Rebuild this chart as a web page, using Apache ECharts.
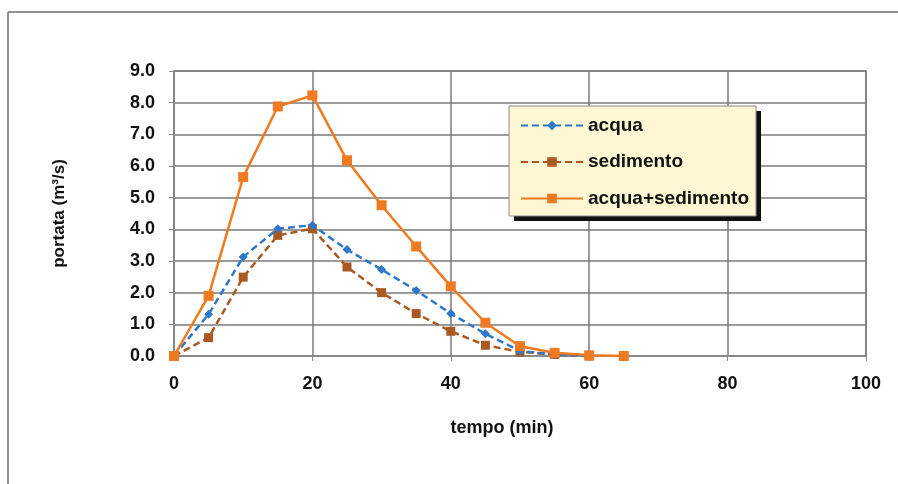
<!DOCTYPE html>
<html>
<head>
<meta charset="utf-8">
<script src="https://cdn.jsdelivr.net/npm/echarts@6/dist/echarts.min.js"></script>
<style>
html,body{margin:0;padding:0;background:#fff;}
#chart{width:898px;height:484px;}
</style>
</head>
<body>
<div id="chart"></div>
<script>
const tempo = [0, 5, 10, 15, 20, 25, 30, 35, 40, 45, 50, 55, 60, 65];
const acqua = [0, 1.32, 3.13, 4.02, 4.13, 3.36, 2.73, 2.07, 1.34, 0.7, 0.16, 0.05, 0];
const sedimento = [0, 0.58, 2.49, 3.81, 4.02, 2.81, 2.0, 1.34, 0.78, 0.34, 0.13, 0.05, 0];
const totale = [0, 1.9, 5.65, 7.88, 8.23, 6.18, 4.76, 3.46, 2.2, 1.05, 0.31, 0.1, 0.02, 0];
const xTicks = [0, 20, 40, 60, 80, 100];
const yTicks = [0, 1, 2, 3, 4, 5, 6, 7, 8, 9];

const pair = arr => arr.map((v, i) => [tempo[i], v]);
const FONT = 'Liberation Sans, Arial, sans-serif';
const chart = echarts.init(document.getElementById('chart'));

chart.setOption({
  backgroundColor: '#ffffff',
  animation: false,
  graphic: [
    { type: 'line', z: 1, shape: { x1: 8, y1: 12, x2: 898, y2: 12 }, style: { stroke: '#6e6e6e', lineWidth: 1.5 } },
    { type: 'line', z: 1, shape: { x1: 8, y1: 12, x2: 8, y2: 484 }, style: { stroke: '#6e6e6e', lineWidth: 1.5 } },
    { type: 'rect', z: 3, shape: { x: 514, y: 111, width: 247, height: 110 }, style: { fill: '#111' } },
    { type: 'rect', z: 3, shape: { x: 509, y: 106, width: 247, height: 110 }, style: { fill: '#fdf7d3', stroke: '#8a8a8a', lineWidth: 1 } }
  ],
  grid: { left: 174, top: 71, right: 32, bottom: 128, show: true, borderColor: '#8a8a8a', borderWidth: 1.5, backgroundColor: '#fff' },
  legend: {
    orient: 'vertical',
    left: 509, top: 106,
    padding: [10, 6, 9, 11],
    itemGap: 17.5,
    itemWidth: 62, itemHeight: 12,
    textStyle: { fontFamily: FONT, fontSize: 19, fontWeight: 'bold', color: '#111', lineHeight: 18 },
    data: ['acqua', 'sedimento', 'acqua+sedimento']
  },
  xAxis: {
    type: 'value', min: 0, max: 100, interval: 20,
    name: 'tempo (min)', nameLocation: 'middle', nameGap: 63,
    nameTextStyle: { fontFamily: FONT, fontSize: 18, fontWeight: 'bold', color: '#111', padding: [0, 36, 0, 0] },
    axisLine: { lineStyle: { color: '#8a8a8a', width: 1.5 } },
    axisTick: { show: true, inside: false, length: 5, lineStyle: { color: '#8a8a8a' } },
    axisLabel: { fontFamily: FONT, fontSize: 18, fontWeight: 'bold', color: '#111', margin: 19,
      customValues: xTicks },
    splitLine: { show: true, lineStyle: { color: '#7a7a7a', width: 1.5 } }
  },
  yAxis: {
    type: 'value', min: 0, max: 9, interval: 1,
    name: 'portata (m³/s)', nameLocation: 'middle', nameGap: 106, nameRotate: 90,
    nameTextStyle: { fontFamily: FONT, fontSize: 17, fontWeight: 'bold', color: '#111' },
    axisLine: { show: true, lineStyle: { color: '#8a8a8a', width: 1.5 } },
    axisTick: { show: true, inside: false, length: 5, lineStyle: { color: '#8a8a8a' } },
    axisLabel: { fontFamily: FONT, fontSize: 18, fontWeight: 'bold', color: '#111', margin: 19,
      formatter: v => yTicks.includes(v) ? v.toFixed(1) : '' },
    splitLine: { show: true, lineStyle: { color: '#7a7a7a', width: 1.5 } }
  },
  series: [
    {
      name: 'acqua', type: 'line', data: pair(acqua),
      symbol: 'diamond', symbolSize: 9, z: 3,
      lineStyle: { color: '#2f78c9', width: 2.5, type: [7, 4] },
      itemStyle: { color: '#2f78c9' }
    },
    {
      name: 'sedimento', type: 'line', data: pair(sedimento),
      symbol: 'rect', symbolSize: 9, z: 2,
      lineStyle: { color: '#a85a22', width: 2.5, type: [7, 4] },
      itemStyle: { color: '#a85a22' }
    },
    {
      name: 'acqua+sedimento', type: 'line', data: pair(totale),
      symbol: 'rect', symbolSize: 10, z: 4,
      lineStyle: { color: '#ee7a22', width: 2.5 },
      itemStyle: { color: '#ee7a22' }
    }
  ]
});
</script>
</body>
</html>
